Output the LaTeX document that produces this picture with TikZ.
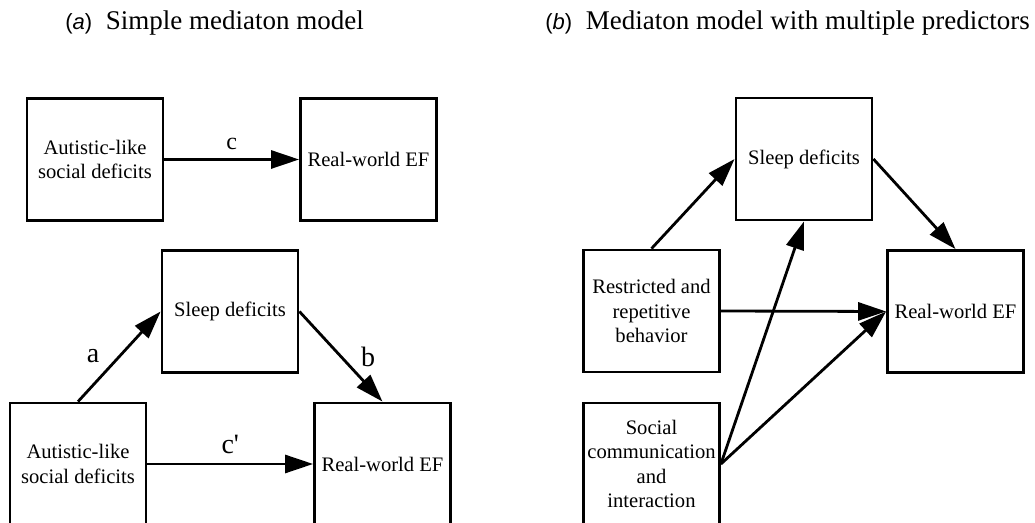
\documentclass[tikz,border=0pt]{standalone}
\usepackage{fontspec}
\setmainfont{Liberation Serif}
\setsansfont{Liberation Sans}
\usetikzlibrary{arrows.meta,positioning}
\newcommand{\panelmark}[1]{{\sffamily\fontsize{11}{13}\selectfont(\textit{#1})}}

\begin{document}
\begin{tikzpicture}[
      x=0.5pt,y=-0.5pt,
      >={Triangle[length=14pt,width=9pt]},
      varbox/.style={draw,line width=1.4pt,minimum width=68pt,
                   minimum height=61pt,inner sep=1pt,align=center,
                   font=\fontsize{10.3}{12.3}\selectfont},
      link/.style={->,line width=1.4pt},
      coef/.style={font=\fontsize{14}{16}\selectfont},
      paneltitle/.style={anchor=west,inner sep=0pt,
                   font=\fontsize{13.5}{16}\selectfont}
    ]
    \useasboundingbox (0,0) rectangle (1035,523);
    \clip (0,0) rectangle (1035,523);
    % panel titles
    \node[paneltitle] (titlea) at (65,23) {\panelmark{a}\ \ Simple mediaton model};
    \node[paneltitle] (titleb) at (545,23) {\panelmark{b}\ \ Mediaton model with multiple predictors};
    % (a) simple mediation: direct effect
    \node[varbox] (soc1) at (95,159.5) {Autistic-like\\social deficits};
    \node[varbox] (ef1) at (368.5,159.5) {Real-world EF};
    \draw[link] (soc1) -- node[above=1pt,font=\fontsize{12}{14}\selectfont] {c} (ef1);
    % (a) simple mediation: indirect effect
    \node[varbox] (sleep1) at (230,311.5) {Sleep deficits};
    \node[varbox] (soc2) at (78,464) {Autistic-like\\social deficits};
    \node[varbox] (ef2) at (382.5,464) {Real-world EF};
    \draw[link] (soc2.north) -- node[coef,left=6pt] {a} (sleep1.west);
    \draw[link] (sleep1.east) -- node[coef,right=6pt] {b} (ef2.north);
    \draw[link] (soc2) -- node[coef,above=1pt] {c\textquotesingle} (ef2);
    % (b) multiple predictors
    \node[varbox] (sleepB) at (804,159) {Sleep deficits};
    \node[varbox] (rrb) at (651.5,311) {Restricted and\\repetitive\\behavior};
    \node[varbox] (efB) at (955.5,311.5) {Real-world EF};
    \node[varbox] (scomm) at (651.5,464) {Social\\communication\\and\\interaction};
    \draw[link] (rrb.north) -- (sleepB.west);
    \draw[link] (sleepB.east) -- (efB.north);
    \draw[link] (rrb.east) -- (efB.west);
    \draw[link] (scomm.east) -- (sleepB.south);
    \draw[link] (scomm.east) -- (efB.west);
  \end{tikzpicture}
\end{document}
